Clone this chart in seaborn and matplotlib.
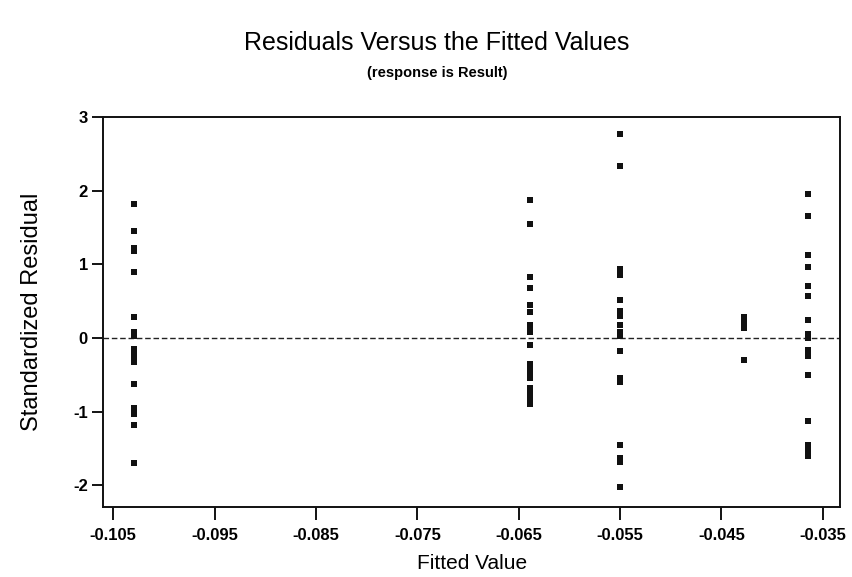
import matplotlib
matplotlib.use('Agg')
import matplotlib.pyplot as plt
import seaborn as sns
import pandas as pd

# fitted value of each group, and the standardized residuals
fit_a = -0.1030
res_a = [1.82, 1.45, 1.22, 1.18, 0.90, 0.28, 0.08, 0.03, -0.15, -0.20,
         -0.25, -0.33, -0.62, -0.95, -1.00, -1.03, -1.18, -1.70]
fit_b = -0.0639
res_b = [1.88, 1.55, 0.83, 0.68, 0.45, 0.35, 0.18, 0.12, 0.08, -0.10,
         -0.35, -0.42, -0.48, -0.55, -0.68, -0.75, -0.82, -0.90]
fit_c = -0.0550
res_c = [2.77, 2.33, 0.93, 0.85, 0.52, 0.37, 0.30, 0.17, 0.08, 0.02,
         -0.18, -0.55, -0.60, -1.45, -1.63, -1.68, -2.02]
fit_d = -0.0428
res_d = [0.29, 0.20, 0.13, -0.30]
fit_e = -0.0365
res_e = [1.95, 1.65, 1.12, 0.97, 0.70, 0.57, 0.25, 0.05, 0.00, -0.17,
         -0.25, -0.50, -1.13, -1.45, -1.50, -1.55, -1.60]

x_ticks = [-0.105, -0.095, -0.085, -0.075, -0.065, -0.055, -0.045, -0.035]
y_ticks = [-2, -1, 0, 1, 2, 3]

groups = [(fit_a, res_a), (fit_b, res_b), (fit_c, res_c), (fit_d, res_d), (fit_e, res_e)]
rows = []
for fit, res in groups:
    for r in res:
        rows.append({'fitted': fit, 'resid': r})
df = pd.DataFrame(rows)

sns.set_style('white')
plt.rcParams['font.family'] = ['Liberation Sans', 'DejaVu Sans']
plt.rcParams['text.color'] = 'black'
plt.rcParams['axes.labelcolor'] = 'black'
plt.rcParams['xtick.color'] = 'black'
plt.rcParams['ytick.color'] = 'black'

fig = plt.figure(figsize=(8.52, 5.77), dpi=100)
ax = fig.add_axes([0.121, 0.121, 0.865, 0.676])

sns.scatterplot(data=df, x='fitted', y='resid', marker='s', s=20,
                color='#111111', linewidth=0, ax=ax)
ax.axhline(0, color='#222222', linestyle=(0, (4, 2)), linewidth=1.0, zorder=0)

ax.set_xlim(-0.1060, -0.0333)
ax.set_ylim(-2.3, 3.0)
ax.set_xticks(x_ticks)
ax.set_xticklabels([f'{t:.3f}' for t in x_ticks])
ax.set_yticks(y_ticks)
ax.set_yticklabels([str(t) for t in y_ticks])
ax.tick_params(axis='x', direction='out', length=9, width=1.3, pad=6,
               labelsize=12, bottom=True)
ax.tick_params(axis='y', direction='out', length=8, width=1.3, pad=3,
               labelsize=12, left=True)
for lab in ax.get_xticklabels() + ax.get_yticklabels():
    lab.set_fontweight('bold')
for sp in ax.spines.values():
    sp.set_visible(True)
    sp.set_color('#111111')
    sp.set_linewidth(1.4)

ax.set_xlabel('Fitted Value', fontsize=15, labelpad=8)
ax.set_ylabel('Standardized Residual', fontsize=17, labelpad=22)

fig.text(0.513, 0.925, 'Residuals Versus the Fitted Values', ha='center',
         va='center', fontsize=18)
fig.text(0.513, 0.873, '(response is Result)', ha='center', va='center',
         fontsize=10.5, fontweight='bold')

fig.savefig('out.png', dpi=100)
